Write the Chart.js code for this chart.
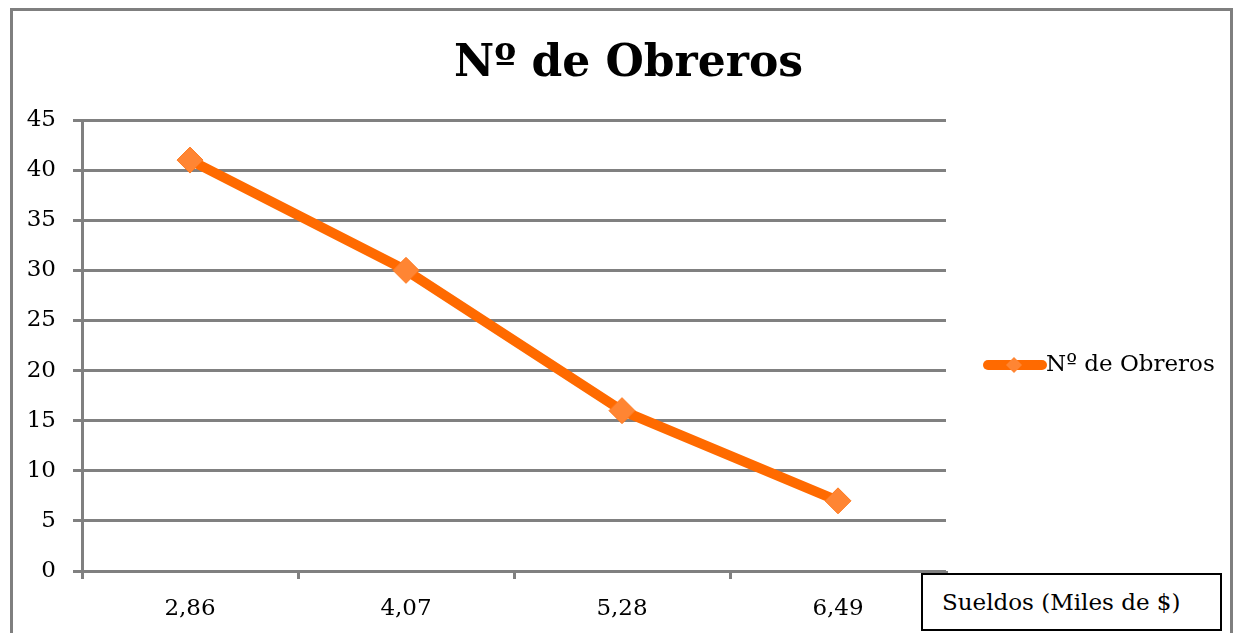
<!DOCTYPE html>
<html lang="es">
<head>
<meta charset="UTF-8">
<title>Nº de Obreros</title>
<style>
  body { margin: 0; background: #fff; }
  #wrap { position: relative; width: 1237px; height: 633px; overflow: hidden; }
  #frame { position: absolute; left: 10px; top: 8px; width: 1223px; height: 640px;
           border: 3px solid #7f7f7f; box-sizing: border-box; }
  #chartTitle { position: absolute; left: 10px; top: 33px; width: 1237px; text-align: center;
                font: bold 44px "DejaVu Serif", serif; line-height: 56px; color: #000; }
  #xTitle { position: absolute; left: 921px; top: 573px; width: 301px; height: 58px;
            border: 2px solid #000; box-sizing: border-box; background: #fff;
            font: 23px "DejaVu Serif", serif; line-height: 54px; padding-left: 19px; white-space: nowrap; }
  canvas { position: absolute; left: 0; top: 0; }
</style>
</head>
<body>
<div id="wrap">
  <div id="frame"></div>
  <canvas id="myChart" width="1237" height="633"></canvas>
  <div id="chartTitle">Nº de Obreros</div>
  <div id="xTitle">Sueldos (Miles de $)</div>
</div>

<script src="https://cdn.jsdelivr.net/npm/chart.js"></script>
<script>
  // datos
  const sueldos = ['2,86', '4,07', '5,28', '6,49'];
  const obreros = [41, 30, 16, 7];
  const serieNombre = 'Nº de Obreros';

  const lineColor = '#ff6a00';
  const pointColor = '#ff8533';
  const gridColor = '#808080';
  const fontFam = '"DejaVu Serif", serif';

  // leyenda dibujada a mano (linea + rombo + texto)
  const legendPlugin = {
    id: 'legendLine',
    afterDraw(chart) {
      const ctx = chart.ctx;
      const ds = chart.data.datasets[0];
      const y = 365;
      ctx.save();
      ctx.strokeStyle = ds.borderColor;
      ctx.lineWidth = 10;
      ctx.lineCap = 'round';
      ctx.beginPath();
      ctx.moveTo(988, y);
      ctx.lineTo(1042, y);
      ctx.stroke();
      ctx.fillStyle = ds.pointBackgroundColor;
      ctx.beginPath();
      ctx.moveTo(1014, y - 8);
      ctx.lineTo(1022, y);
      ctx.lineTo(1014, y + 8);
      ctx.lineTo(1006, y);
      ctx.closePath();
      ctx.fill();
      ctx.fillStyle = '#000';
      ctx.font = '23px ' + fontFam;
      ctx.textBaseline = 'middle';
      ctx.fillText(ds.label, 1046, y);
      ctx.restore();
    }
  };

  const ctx = document.getElementById('myChart');
  new Chart(ctx, {
    type: 'line',
    data: {
      labels: sueldos,
      datasets: [{
        label: serieNombre,
        data: obreros,
        borderColor: lineColor,
        borderWidth: 10,
        pointStyle: 'rectRot',
        pointRadius: 13,
        pointBackgroundColor: pointColor,
        pointBorderColor: '#ff7a1f',
        pointBorderWidth: 1,
        tension: 0
      }]
    },
    options: {
      responsive: false,
      animation: false,
      layout: { padding: { left: 0, right: 291, top: 120, bottom: 0 } },
      plugins: {
        legend: { display: false },
        tooltip: { enabled: false },
        title: { display: false }
      },
      scales: {
        x: {
          offset: true,
          afterFit: s => { s.height = 62; },
          grid: { offset: true, drawOnChartArea: false, color: gridColor, lineWidth: 3, tickLength: 8 },
          border: { display: false },
          ticks: { color: '#000', font: { family: fontFam, size: 23 }, padding: 16 }
        },
        y: {
          min: 0,
          max: 45,
          afterFit: s => { s.width = 82; },
          grid: { color: gridColor, lineWidth: 3, tickLength: 9 },
          border: { color: gridColor, width: 3 },
          ticks: { stepSize: 5, color: '#000', font: { family: fontFam, size: 23 }, padding: 17 }
        }
      }
    },
    plugins: [legendPlugin]
  });
</script>
</body>
</html>
